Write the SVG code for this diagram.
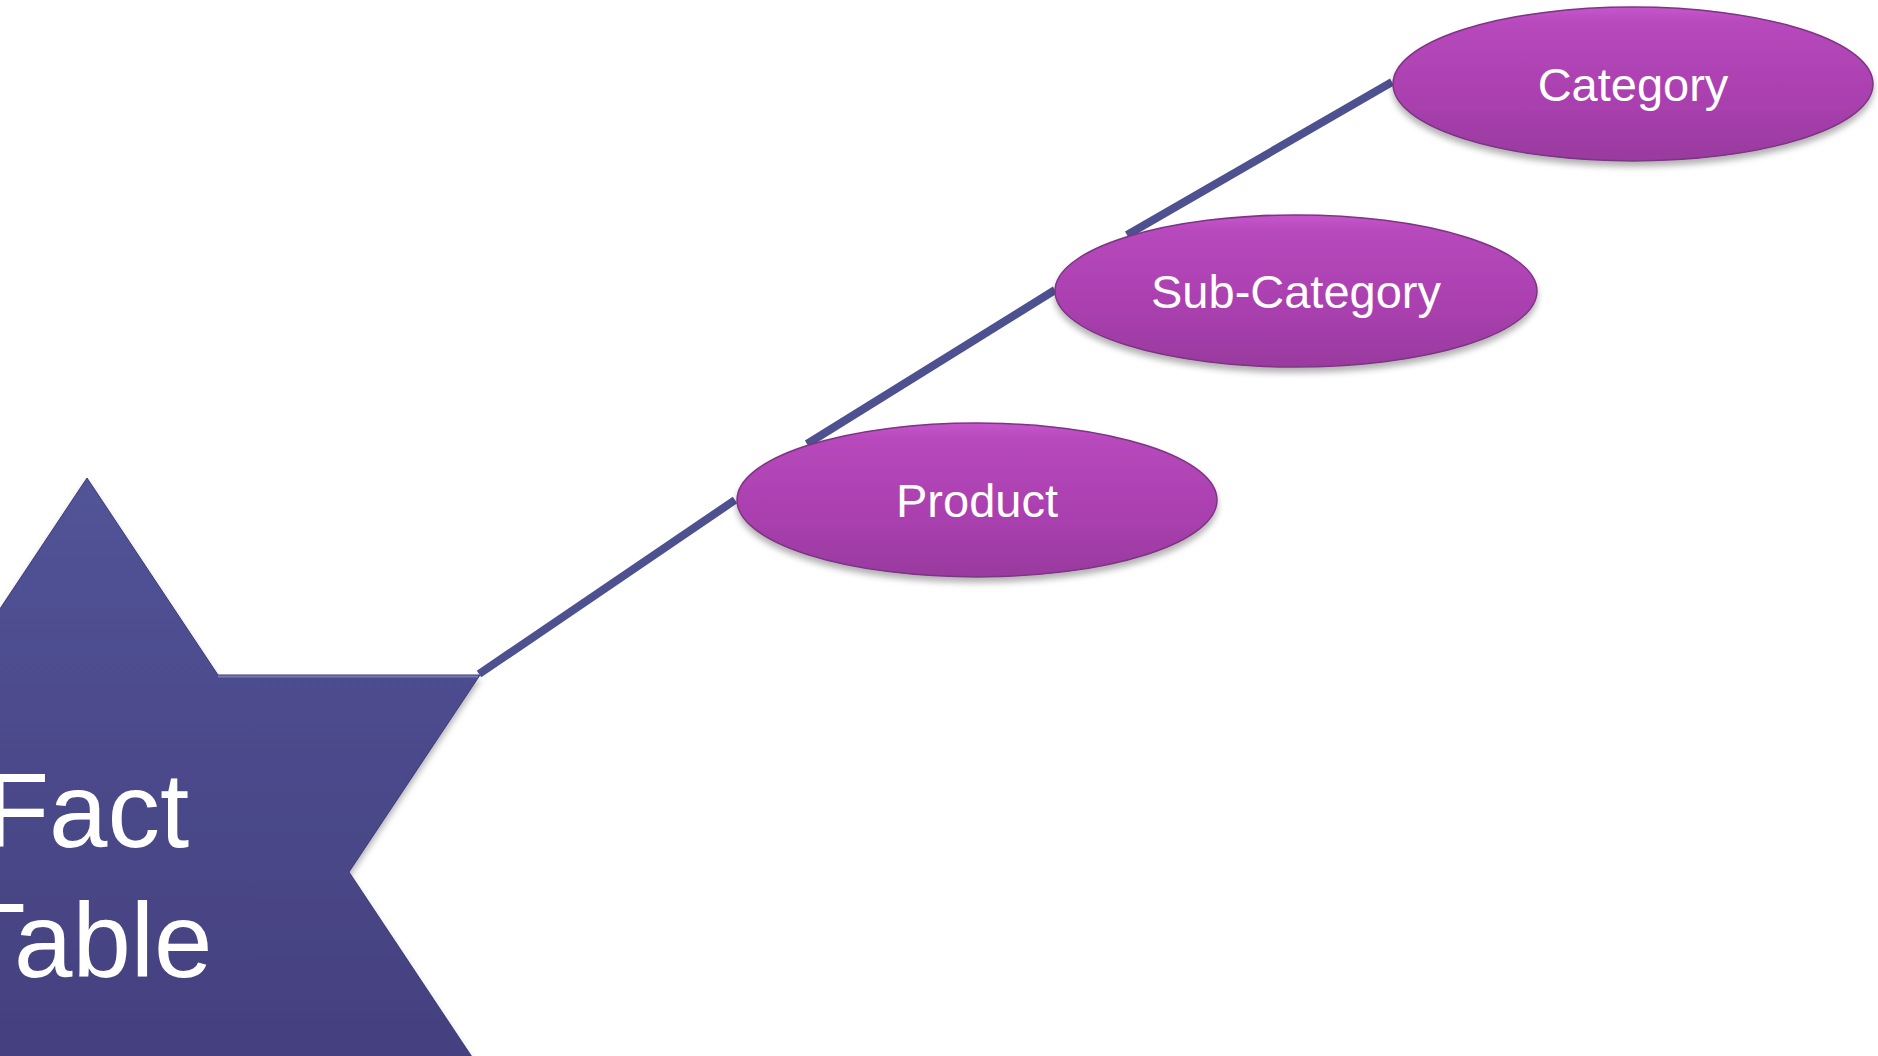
<svg xmlns="http://www.w3.org/2000/svg" width="1878" height="1056" viewBox="0 0 1878 1056">
  <defs>
    <linearGradient id="starFill" gradientUnits="userSpaceOnUse" x1="0" y1="478" x2="0" y2="1056">
      <stop offset="0" stop-color="#525398"/>
      <stop offset="1" stop-color="#44407e"/>
    </linearGradient>
    <linearGradient id="ovalFill" x1="0" y1="0" x2="0" y2="1">
      <stop offset="0" stop-color="#c456ca"/>
      <stop offset="0.12" stop-color="#b648bb"/>
      <stop offset="0.6" stop-color="#aa40af"/>
      <stop offset="1" stop-color="#993a9f"/>
    </linearGradient>
    <filter id="shadow" x="-10%" y="-20%" width="120%" height="150%">
      <feDropShadow dx="0" dy="5" stdDeviation="3" flood-color="#000000" flood-opacity="0.3"/>
    </filter>
  </defs>
  <style>
    .oval { fill: url(#ovalFill); stroke: #7d3583; stroke-width: 1.5; filter: url(#shadow); }
    .lbl { font-family: "Liberation Sans", Arial, sans-serif; fill: #ffffff; text-anchor: middle; }
    .small { font-size: 47px; }
    .big { font-size: 105px; }
    .conn { stroke: #4e518f; stroke-width: 8; fill: none; stroke-linecap: butt; }
  </style>
  <rect width="1878" height="1056" fill="#ffffff"/>

  <g id="fact-table">
    <polygon points="87,478 218,675 480,675 349,872 480,1069 218,1069 87,1266 -44,1069 -306,1069 -175,872 -306,675 -44,675" fill="url(#starFill)" stroke="#3e3b74" stroke-width="1" filter="url(#shadow)"/>
    <line x1="218" y1="676.5" x2="478" y2="676.5" stroke="#8a8cc8" stroke-width="2" opacity="0.7"/>
    <text class="lbl big" x="87" y="847">Fact</text>
    <text class="lbl big" x="87" y="977">Table</text>
  </g>

  <g id="connectors">
    <line class="conn" x1="479" y1="674" x2="735" y2="500"/>
    <line class="conn" x1="807" y1="444" x2="1055" y2="290"/>
    <line class="conn" x1="1127" y1="235" x2="1392" y2="82"/>
  </g>

  <g id="product">
    <ellipse class="oval" cx="977" cy="500" rx="240" ry="77"/>
    <text class="lbl small" x="977" y="517">Product</text>
  </g>

  <g id="sub-category">
    <ellipse class="oval" cx="1296" cy="291" rx="241" ry="76"/>
    <text class="lbl small" x="1296" y="308">Sub-Category</text>
  </g>

  <g id="category">
    <ellipse class="oval" cx="1633" cy="84" rx="240" ry="77"/>
    <text class="lbl small" x="1633" y="101">Category</text>
  </g>
</svg>
